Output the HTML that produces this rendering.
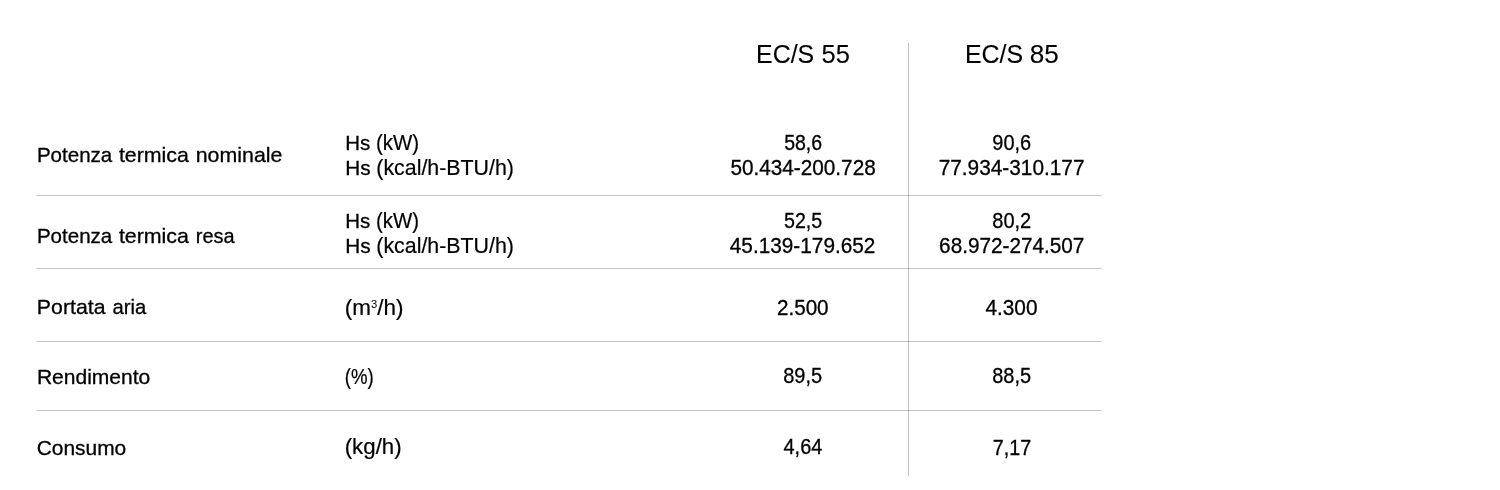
<!DOCTYPE html>
<html lang="it">
<head>
<meta charset="utf-8">
<title>EC/S 55 - EC/S 85</title>
<style>
html,body{margin:0;padding:0;background:#fff}
body{width:1500px;height:490px;position:relative;overflow:hidden;font-family:"Liberation Sans", sans-serif;color:#000}
.t{position:absolute;left:0;white-space:nowrap;line-height:1;transform-origin:0 0;-webkit-text-stroke:0.3px #000}
.hd{-webkit-text-stroke-width:0.12px}
.p{-webkit-text-stroke-width:0.2px}
.t sup{font-size:50%;vertical-align:baseline;position:relative;top:-0.63em;line-height:0;-webkit-text-stroke-width:0}
.h{position:absolute;left:36px;width:1066px;height:1px;background:linear-gradient(90deg,rgba(0,0,0,.14) 0,rgba(0,0,0,.14) 1px,rgba(0,0,0,.23) 1px,rgba(0,0,0,.23) 1065px,rgba(0,0,0,.11) 1065px)}
.v{position:absolute;left:908px;top:43px;width:1px;height:433px;background:rgba(0,0,0,.23)}
</style>
</head>
<body>
<div class="h" style="top:195px"></div>
<div class="h" style="top:268px"></div>
<div class="h" style="top:341px"></div>
<div class="h" style="top:410px"></div>
<div class="v"></div>
<div><span class="t hd" style="top:41px;font-size:26.6px;transform:translateX(756.04px) scaleX(0.9363)">EC/S</span> <span class="t hd" style="top:41px;font-size:26.6px;transform:translateX(821.50px) scaleX(0.9590)">55</span></div>
<div><span class="t hd" style="top:41px;font-size:26.6px;transform:translateX(964.94px) scaleX(0.9363)">EC/S</span> <span class="t hd" style="top:41px;font-size:26.6px;transform:translateX(1029.75px) scaleX(0.9818)">85</span></div>
<div><span class="t" style="top:144px;font-size:21px;transform:translateX(36.92px) scaleX(0.9781)">Potenza</span> <span class="t" style="top:144px;font-size:21px;transform:translateX(118.88px) scaleX(1.0175)">termica</span> <span class="t" style="top:144px;font-size:21px;transform:translateX(195.73px) scaleX(1.0168)">nominale</span></div>
<div><span class="t" style="top:132px;font-size:21px;transform:translateX(345.25px) scaleX(0.9748)">Hs</span> <span class="t p" style="top:133px;font-size:21.5px;transform:translateX(375.99px) scaleX(0.9503)">(kW)</span></div>
<div><span class="t" style="top:157px;font-size:21px;transform:translateX(345.25px) scaleX(0.9863)">Hs</span> <span class="t p" style="top:158px;font-size:21.5px;transform:translateX(376.31px) scaleX(0.9932)">(kcal/h-BTU/h)</span></div>
<div><span class="t" style="top:132px;font-size:21.15px;transform:translateX(784.18px) scaleX(0.9221)">58,6</span></div>
<div><span class="t" style="top:157px;font-size:21.15px;transform:translateX(730.40px) scaleX(0.9812)">50.434-200.728</span></div>
<div><span class="t" style="top:132px;font-size:21.15px;transform:translateX(992.31px) scaleX(0.9437)">90,6</span></div>
<div><span class="t" style="top:157px;font-size:21.15px;transform:translateX(938.69px) scaleX(0.9845)">77.934-310.177</span></div>
<div><span class="t" style="top:225px;font-size:21px;transform:translateX(36.92px) scaleX(0.9781)">Potenza</span> <span class="t" style="top:225px;font-size:21px;transform:translateX(118.88px) scaleX(1.0175)">termica</span> <span class="t" style="top:225px;font-size:21px;transform:translateX(195.81px) scaleX(0.9510)">resa</span></div>
<div><span class="t" style="top:210px;font-size:21px;transform:translateX(345.25px) scaleX(0.9748)">Hs</span> <span class="t p" style="top:211px;font-size:21.5px;transform:translateX(375.99px) scaleX(0.9503)">(kW)</span></div>
<div><span class="t" style="top:235px;font-size:21px;transform:translateX(345.25px) scaleX(0.9863)">Hs</span> <span class="t p" style="top:236px;font-size:21.5px;transform:translateX(376.31px) scaleX(0.9932)">(kcal/h-BTU/h)</span></div>
<div><span class="t" style="top:210px;font-size:21.15px;transform:translateX(783.98px) scaleX(0.9284)">52,5</span></div>
<div><span class="t" style="top:235px;font-size:21.15px;transform:translateX(729.79px) scaleX(0.9829)">45.139-179.652</span></div>
<div><span class="t" style="top:210px;font-size:21.15px;transform:translateX(992.25px) scaleX(0.9468)">80,2</span></div>
<div><span class="t" style="top:235px;font-size:21.15px;transform:translateX(939.10px) scaleX(0.9804)">68.972-274.507</span></div>
<div><span class="t" style="top:296px;font-size:21px;transform:translateX(36.87px) scaleX(1.0131)">Portata</span> <span class="t" style="top:296px;font-size:21px;transform:translateX(112.50px) scaleX(0.9634)">aria</span></div>
<div><span class="t p" style="top:298px;font-size:21.5px;transform:translateX(344.87px) scaleX(1.0453)">(m<sup>3</sup>/h)</span></div>
<div><span class="t" style="top:297px;font-size:21.15px;transform:translateX(776.92px) scaleX(0.9771)">2.500</span></div>
<div><span class="t" style="top:297px;font-size:21.15px;transform:translateX(985.40px) scaleX(0.9851)">4.300</span></div>
<div><span class="t" style="top:366px;font-size:21px;transform:translateX(36.89px) scaleX(1.0017)">Rendimento</span></div>
<div><span class="t p" style="top:367px;font-size:21.5px;transform:translateX(344.78px) scaleX(0.8655)">(%)</span></div>
<div><span class="t" style="top:365px;font-size:21.15px;transform:translateX(783.26px) scaleX(0.9438)">89,5</span></div>
<div><span class="t" style="top:365px;font-size:21.15px;transform:translateX(992.26px) scaleX(0.9438)">88,5</span></div>
<div><span class="t" style="top:437px;font-size:21px;transform:translateX(36.63px) scaleX(0.9970)">Consumo</span></div>
<div><span class="t p" style="top:437px;font-size:21.5px;transform:translateX(344.69px) scaleX(1.0358)">(kg/h)</span></div>
<div><span class="t" style="top:436px;font-size:21.15px;transform:translateX(783.52px) scaleX(0.9424)">4,64</span></div>
<div><span class="t" style="top:437px;font-size:21.15px;transform:translateX(992.69px) scaleX(0.9350)">7,17</span></div>
</body>
</html>
